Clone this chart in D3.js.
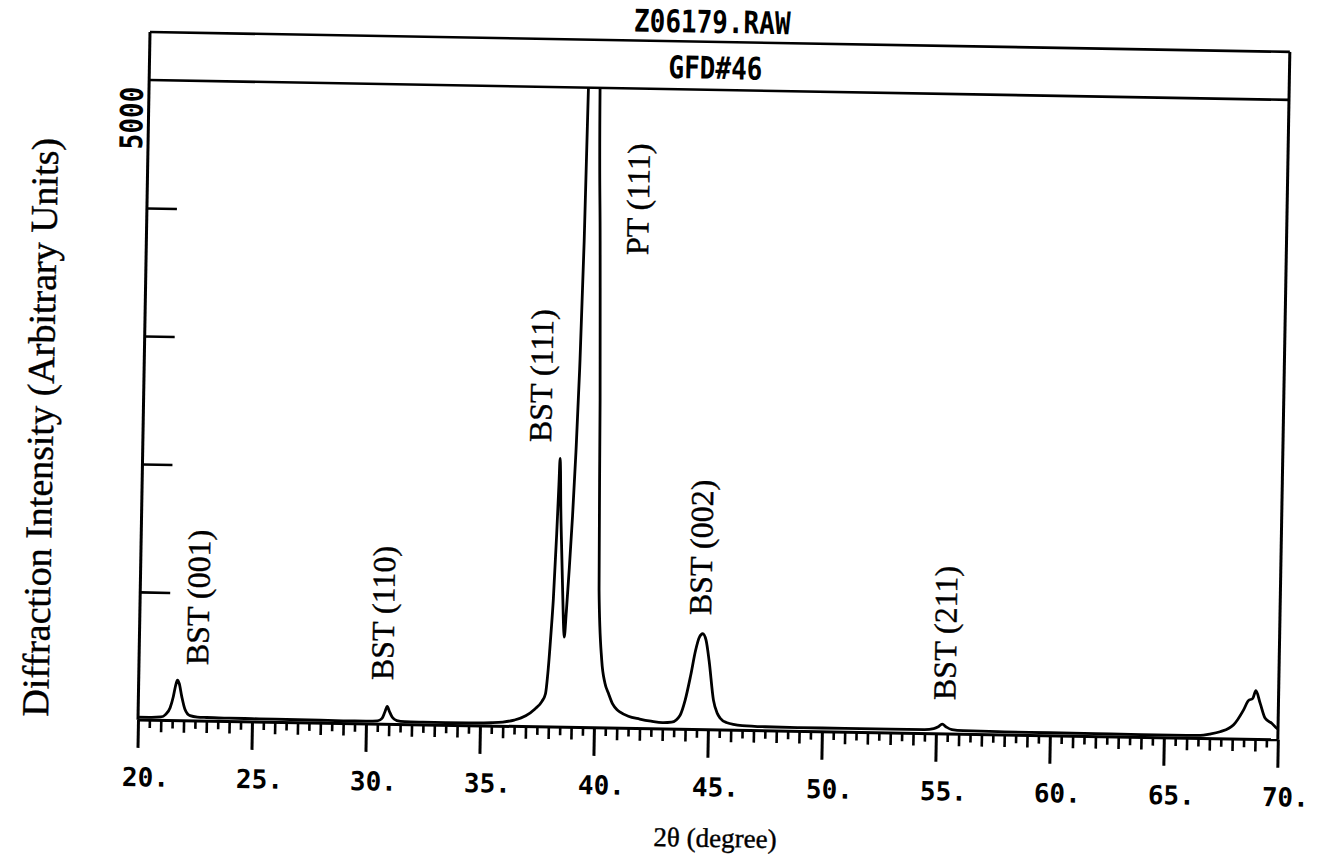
<!DOCTYPE html>
<html>
<head>
<meta charset="utf-8">
<script src="https://cdn.jsdelivr.net/npm/d3@7"></script>
<style>
  html, body { margin: 0; padding: 0; background: #fff; }
  svg { display: block; }
</style>
</head>
<body>
<svg id="chart" width="1319" height="863"></svg>
<script>
// X-ray diffraction scan of a BST film on Pt: 2θ (degrees) and intensity (counts)
const twoTheta = [
  20.0, 20.5, 21.0, 21.2, 21.4, 21.53, 21.62, 21.7, 21.78, 21.9, 22.05, 22.28, 22.6, 23.0,
  24.0, 25.0, 26.0, 27.0, 28.0, 29.0, 30.0, 30.5, 30.7, 30.82, 30.92, 31.02, 31.15, 31.35,
  31.7, 32.5, 33.5, 34.5, 35.5, 36.0, 36.5, 37.0, 37.4, 37.7, 37.85, 37.95, 38.05, 38.12,
  38.22, 38.28, 38.31, 38.34, 38.37, 38.45, 38.54, 38.6, 38.63, 38.7, 38.8, 38.9, 39.0,
  39.1, 39.2, 39.27, 39.4, 39.55, 39.7, 39.78, 39.9, 40.02, 40.12, 40.29, 40.45, 40.61,
  40.8, 41.0, 41.14, 41.5, 42.0, 42.5, 43.0, 43.4, 43.77, 43.98, 44.2, 44.4, 44.55, 44.7,
  44.85, 45.0, 45.22, 45.4, 45.53, 45.8, 46.5, 47.5, 49.0, 51.0, 53.0, 54.5, 54.9, 55.1,
  55.27, 55.45, 55.7, 56.2, 58.0, 60.0, 62.0, 64.0, 66.0, 66.6, 67.0, 67.46, 68.04, 68.47,
  68.68, 68.87, 69.0, 69.2, 69.43, 69.72, 69.95, 70.0
];
const counts = [
  22, 22, 26, 45, 100, 186, 270, 315, 290, 190, 90, 40, 30, 28,
  26, 25, 24, 23, 22, 21, 21, 25, 45, 95, 140, 100, 55, 30,
  23, 21, 20, 21, 26, 33, 50, 85, 140, 200, 260, 450, 750, 990,
  1515, 1900, 2100, 2000, 1775, 1385, 995, 760, 705, 900, 1250, 1650, 2150,
  2800, 3800, 5000, 8000, 9500, 8000, 5000, 3800, 2560, 1080, 530, 350, 272,
  190, 145, 126, 95, 75, 60, 50, 55, 111, 229, 420, 620, 720, 750,
  700, 540, 233, 130, 92, 60, 38, 32, 30, 30, 30, 32, 40, 55,
  77, 55, 35, 28, 25, 24, 23, 22, 22, 24, 35, 55, 109, 227,
  302, 320, 380, 282, 166, 128, 90, 85
];

// Axis ticks
const xMajorTicks = [20, 25, 30, 35, 40, 45, 50, 55, 60, 65, 70];
const yTickValues = [1000, 2000, 3000, 4000];
const yLabelTicks = [5000];

// Peak annotations (reflection names, placed at 2θ / counts)
const peakNames = ["BST (001)", "BST (110)", "BST (111)", "PT (111)", "BST (002)", "BST (211)"];
const peakName2Theta = [22.55, 30.67, 37.42, 41.53, 44.57, 55.34];
const peakNameCounts = [436, 344, 2225, 3699, 895, 265];

const fileName = "Z06179.RAW";
const sampleName = "GFD#46";
const xTitle = "2θ (degree)";
const yTitle = "Diffraction Intensity (Arbitrary Units)";

// Frame geometry
const W = 1140, headerH = 48, H = 688;
const plotterFont = "'DejaVu Sans Mono', monospace";
const serifFont = "'Liberation Serif', 'Times New Roman', serif";

const svg = d3.select("#chart");
const g = svg.append("g").attr("transform", "translate(150,32) rotate(1)");

const x = d3.scaleLinear().domain([20, 70]).range([0, W]);
const y = d3.scaleLinear().domain([0, 5000]).range([H, headerH]);

// Clip so the tall Pt reflection stops at the header line
g.append("clipPath").attr("id", "plotClip")
  .append("rect").attr("x", 0).attr("y", y(5000)).attr("width", W).attr("height", H - y(5000) + 6);

// Header box and frame
const frame = g.append("g").attr("stroke", "#000").attr("stroke-width", 2.6).attr("fill", "none");
frame.append("line").attr("x1", 0).attr("y1", 0).attr("x2", W).attr("y2", 0);
frame.append("line").attr("x1", 0).attr("y1", y(5000)).attr("x2", W).attr("y2", y(5000));
frame.append("line").attr("x1", 0).attr("y1", 0).attr("x2", 0).attr("y2", H).attr("stroke-width", 3);
frame.append("line").attr("x1", W).attr("y1", 0).attr("x2", W).attr("y2", H).attr("stroke-width", 3);

g.append("text")
  .attr("transform", `translate(${W / 2 - 8},-9) scale(1,1.2)`)
  .attr("text-anchor", "middle")
  .style("font-family", plotterFont).style("font-weight", "bold").style("font-size", "26px")
  .text(fileName);

g.append("text")
  .attr("transform", `translate(${W / 2 - 4},${y(5000) - 11}) scale(1,1.2)`)
  .attr("text-anchor", "middle")
  .style("font-family", plotterFont).style("font-weight", "bold").style("font-size", "26px")
  .text(sampleName);

// Bottom axis: half-degree, whole-degree and five-degree ticks
const halfTicks = d3.range(20, 70.001, 0.5).filter(v => v % 1 !== 0);
const wholeTicks = d3.range(20, 70.001, 1).filter(v => v % 5 !== 0);

function styleTicks(sel, w) {
  sel.select(".domain").remove();
  sel.selectAll(".tick line").attr("stroke", "#000").attr("stroke-width", w);
}

g.append("g").attr("transform", `translate(0,${H})`)
  .call(d3.axisBottom(x).tickValues(halfTicks).tickSize(8).tickFormat(""))
  .call(s => styleTicks(s, 2.6));
g.append("g").attr("transform", `translate(0,${H})`)
  .call(d3.axisBottom(x).tickValues(wholeTicks).tickSize(12).tickFormat(""))
  .call(s => styleTicks(s, 2.6));
const xMajor = g.append("g").attr("transform", `translate(0,${H})`)
  .call(d3.axisBottom(x).tickValues(xMajorTicks).tickSize(28).tickPadding(20).tickFormat(d => d + "."))
  .call(s => styleTicks(s, 3));
xMajor.selectAll(".tick text")
  .attr("fill", "#000")
  .attr("dx", 8)
  .style("font-family", plotterFont).style("font-weight", "bold").style("font-size", "26px");

g.append("line").attr("x1", 0).attr("y1", H).attr("x2", W).attr("y2", H)
  .attr("stroke", "#000").attr("stroke-width", 3);

// Left axis: inward ticks, only the top value labelled
g.append("g")
  .call(d3.axisRight(y).tickValues(yTickValues).tickSize(30).tickFormat(""))
  .call(s => styleTicks(s, 2.6));
g.selectAll(null).data(yLabelTicks).enter().append("text")
  .attr("transform", d => `translate(-6,${y(d) + 7}) rotate(-90) scale(1,1.2)`)
  .attr("text-anchor", "end")
  .style("font-family", plotterFont).style("font-weight", "bold").style("font-size", "26px")
  .text(d => d);

// Diffraction pattern
const scan = twoTheta.map((t, i) => [t, counts[i]]);
g.append("path")
  .datum(scan)
  .attr("clip-path", "url(#plotClip)")
  .attr("fill", "none")
  .attr("stroke", "#000")
  .attr("stroke-width", 2.8)
  .attr("stroke-linejoin", "round")
  .attr("d", d3.line().x(d => x(d[0])).y(d => y(d[1])).curve(d3.curveMonotoneX));

// Reflection labels
g.selectAll(null).data(peakNames).enter().append("text")
  .attr("transform", (d, i) => `translate(${x(peakName2Theta[i])},${y(peakNameCounts[i])}) rotate(-90)`)
  .attr("text-anchor", "start")
  .attr("dominant-baseline", "central")
  .attr("stroke", "#000").attr("stroke-width", 0.4)
  .style("font-family", serifFont).style("font-size", "32px")
  .text(d => d);

// Axis titles
g.append("text")
  .attr("x", 579).attr("y", 796)
  .attr("text-anchor", "middle").attr("dominant-baseline", "central")
  .attr("stroke", "#000").attr("stroke-width", 0.4)
  .style("font-family", serifFont).style("font-size", "27px")
  .text(xTitle);

g.append("text")
  .attr("transform", "translate(-103,397) rotate(-90)")
  .attr("text-anchor", "middle").attr("dominant-baseline", "central")
  .attr("stroke", "#000").attr("stroke-width", 0.4)
  .style("font-family", serifFont).style("font-size", "38px")
  .text(yTitle);
</script>
</body>
</html>
